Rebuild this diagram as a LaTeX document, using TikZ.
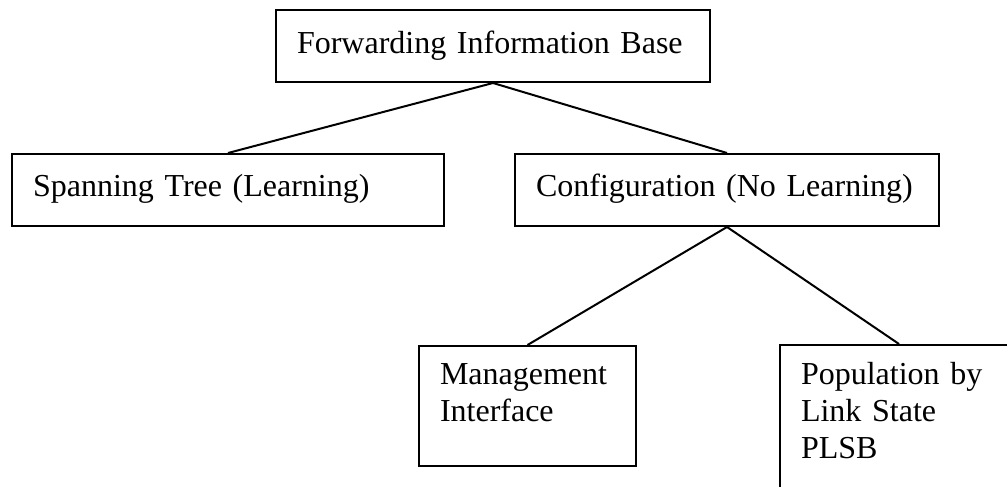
\documentclass[tikz,border=0pt]{standalone}
\usepackage{fontspec}
\setmainfont{Liberation Serif}
\usepackage{tikz}

\begin{document}
\begin{tikzpicture}[
  x=0.5pt, y=-0.5pt,
  box/.style 2 args={draw, line width=1pt, anchor=north west, align=left,
    inner xsep=10.5pt, inner ysep=0pt, text width=#1, text height=#2,
    font=\fontsize{16}{18.5}\selectfont},
  link/.style={line width=1pt}
]
  \useasboundingbox (0,0) rectangle (1007,487);

  \node[box={196pt}{22pt}, text depth=14pt] (fib) at (275,9) {Forwarding Information Base};
  \node[box={195pt}{21pt}, text depth=15pt] (stp) at (11,153) {Spanning Tree (Learning)};
  \node[box={191pt}{21pt}, text depth=15pt] (cfg) at (514,153) {Configuration (No Learning)};
  \node[box={87.5pt}{19pt}, text depth=41pt] (mgmt) at (418,345) {Management\\Interface};
  \node[box={98pt}{19.5pt}, text depth=64pt] (plsb) at (779,344) {Population by\\Link State\\PLSB};

  \draw[link] (fib.south) -- (stp.north);
  \draw[link] (fib.south) -- (cfg.north);
  \draw[link] (cfg.south) -- (mgmt.north);
  \draw[link] (cfg.south) -- (plsb.north);
\end{tikzpicture}
\end{document}
